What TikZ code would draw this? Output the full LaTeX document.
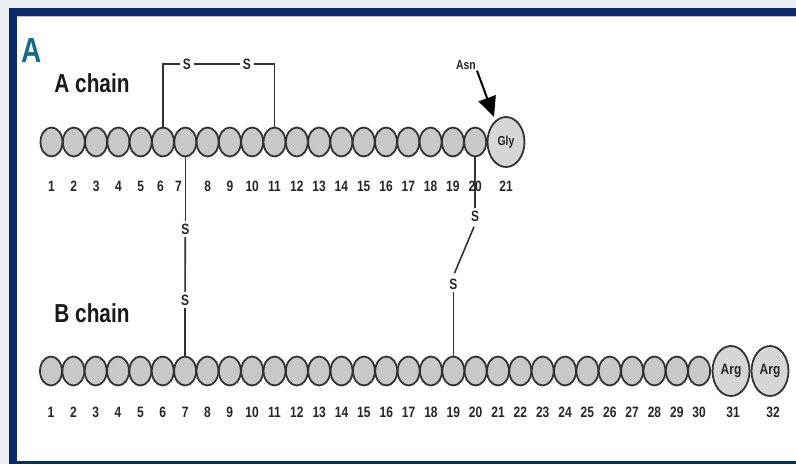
\documentclass[tikz,border=0pt]{standalone}
\usepackage{fontspec}
\setmainfont{Liberation Sans}
\newfontfamily\condfont[FakeStretch=0.8]{Liberation Sans}
\usetikzlibrary{shapes.geometric,arrows.meta,calc}
\definecolor{navyframe}{RGB}{10,42,105}
\definecolor{pagebg}{RGB}{236,239,243}
\definecolor{panelteal}{RGB}{24,108,138}
\definecolor{resfill}{RGB}{200,200,200}
\definecolor{resline}{RGB}{50,50,50}
\begin{document}
\begin{tikzpicture}[x=1pt,y=-1pt,
  res/.style={ellipse,draw=resline,fill=resfill,line width=1.8pt,minimum width=22pt,minimum height=29pt,inner sep=0pt},
  bigres/.style={res,minimum width=37pt,minimum height=50pt,fill=resfill!75!white,text=black!85,font=\condfont\bfseries\fontsize{15}{15}\selectfont},
  num/.style={font=\condfont\bfseries\fontsize{15}{15}\selectfont,text=black!85,inner sep=0pt},
  sulf/.style={font=\condfont\bfseries\fontsize{15}{15}\selectfont,inner sep=2.5pt,text=black!85},
  bond/.style={draw=resline,line width=1.6pt},
  chainlbl/.style={font=\condfont\bfseries\fontsize{26}{26}\selectfont,inner sep=0pt,text=black!90}]
\useasboundingbox (0,0) rectangle (796,464);
% frame
\fill[pagebg] (0,0) rectangle (796,464);
\fill[navyframe] (9,8) rectangle (796,464);
\fill[white] (16.5,15.5) rectangle (796,460.5);
\draw[black!25,line width=1pt] (16.5,16.5) -- (796,16.5);
% panel letter and chain labels
\node[font=\condfont\bfseries\fontsize{35}{35}\selectfont,text=panelteal,inner sep=0pt] (panel) at (32,50) {A};
\node[chainlbl] (alabel) at (92,83) {A chain};
\node[chainlbl] (blabel) at (92,313) {B chain};
% A chain residues
\foreach \i in {1,...,20}
  \node[res] (a\i) at ({51.5+22.3*(\i-1)},142) {};
\node[bigres,font=\condfont\bfseries\fontsize{13}{13}\selectfont] (a21) at (506,142) {Gly};
% A chain numbers
\foreach \i in {1,...,5}
  \node[num] (na\i) at ({51.5+22.3*(\i-1)},186) {\i};
\node[num] (na6) at (160.5,186) {6};
\node[num] (na7) at (178.5,186) {7};
\foreach \i in {8,...,20}
  \node[num] (na\i) at ({51.5+22.3*(\i-1)},186) {\i};
\node[num] (na21) at (506,186) {21};
% B chain residues
\foreach \i in {1,...,30}
  \node[res] (b\i) at ({51+22.35*(\i-1)},371) {};
\node[bigres] (b31) at (731,371) {Arg};
\node[bigres] (b32) at (770,371) {Arg};
% B chain numbers
\foreach \i in {1,...,30}
  \node[num] (nb\i) at ({51+22.35*(\i-1)},412) {\i};
\node[num] (nb31) at (733,412) {31};
\node[num] (nb32) at (773,412) {32};
% intra-chain disulfide (A6-A11)
\node[sulf] (s1) at (187,64) {S};
\node[sulf] (s2) at (247,64) {S};
\draw[bond] (a6.north) |- (s1.west);
\draw[bond] (s1.east) -- (s2.west);
\draw[bond] (s2.east) -| (a11.north);
% inter-chain disulfide A7-B7
\node[sulf] (s3) at (a7 |- 0,229) {S};
\node[sulf] (s4) at (b7 |- 0,300) {S};
\draw[bond] (a7.south) -- (s3.north);
\draw[bond] (s3.south) -- (s4.north);
\draw[bond] (s4.south) -- (b7.north);
% inter-chain disulfide A20-B19
\node[sulf] (s5) at (a20 |- 0,216) {S};
\node[sulf] (s6) at (b19 |- 0,284) {S};
\draw[bond] (a20.south) -- (s5.north);
\draw[bond,shorten <=3pt,shorten >=3pt] (s5.south) -- (s6.north);
\draw[bond] (s6.south) -- (b19.north);
% Asn arrow
\node[font=\condfont\bfseries\fontsize{13}{13}\selectfont,inner sep=1pt,text=black!85] (asn) at (466,65) {Asn};
\coordinate (asntip) at (494,117);
\draw[black,line width=2pt,-{Triangle[length=20pt,width=18pt]}] (asn.south east) -- (asntip);
\end{tikzpicture}
\end{document}
